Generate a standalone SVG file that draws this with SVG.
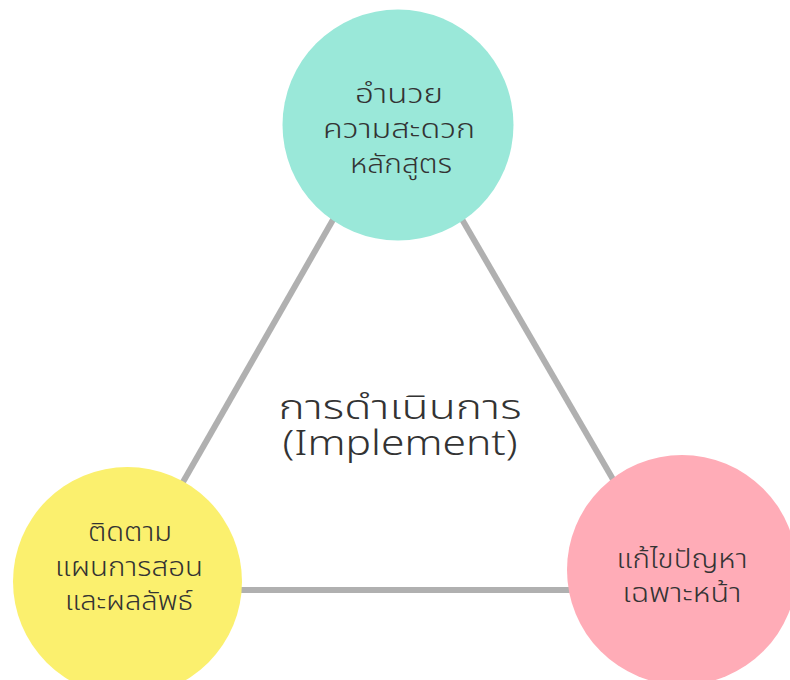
<svg xmlns="http://www.w3.org/2000/svg" width="790" height="680" viewBox="0 0 790 680">
  <style>
    .link { stroke: #b0b0b0; stroke-width: 6; fill: none; }
    .label { font-family: "Noto Sans Thai", "Noto Sans", "DejaVu Sans", sans-serif; font-size: 26px; font-weight: 300; fill: #333333; text-anchor: middle; }
    .title { font-family: "Noto Sans Thai", "Noto Sans", "DejaVu Sans", sans-serif; font-size: 34px; font-weight: 300; fill: #333333; text-anchor: middle; }
  </style>
  <rect width="790" height="680" fill="#ffffff"/>

  <!-- connectors between the three stages -->
  <g id="connectors">
    <line class="link" x1="350" y1="190" x2="175" y2="496"/>
    <line class="link" x1="445" y1="190" x2="625" y2="500"/>
    <line class="link" x1="200" y1="590" x2="620" y2="590"/>
  </g>

  <!-- central caption -->
  <g id="center">
    <text class="title" x="400" y="419" textLength="243" lengthAdjust="spacingAndGlyphs">การดำเนินการ</text>
    <text class="title" x="400" y="455" textLength="235" lengthAdjust="spacingAndGlyphs">(Implement)</text>
  </g>

  <g id="node-support">
    <circle cx="398" cy="125" r="115.5" fill="#9ae8d9"/>
    <text class="label" x="399" y="103" textLength="88" lengthAdjust="spacingAndGlyphs">อำนวย</text>
    <text class="label" x="399" y="138" textLength="152" lengthAdjust="spacingAndGlyphs">ความสะดวก</text>
    <text class="label" x="401" y="173" textLength="102" lengthAdjust="spacingAndGlyphs">หลักสูตร</text>
  </g>

  <g id="node-monitor">
    <circle cx="127.5" cy="581.5" r="114.5" fill="#fbf06e"/>
    <text class="label" x="130" y="541" textLength="84" lengthAdjust="spacingAndGlyphs">ติดตาม</text>
    <text class="label" x="129" y="576" textLength="148" lengthAdjust="spacingAndGlyphs">แผนการสอน</text>
    <text class="label" x="129" y="610" textLength="128" lengthAdjust="spacingAndGlyphs">และผลลัพธ์</text>
  </g>

  <g id="node-solve">
    <circle cx="682" cy="570" r="115" fill="#ffacb7"/>
    <text class="label" x="682" y="568" textLength="131" lengthAdjust="spacingAndGlyphs">แก้ไขปัญหา</text>
    <text class="label" x="682" y="602" textLength="119" lengthAdjust="spacingAndGlyphs">เฉพาะหน้า</text>
  </g>
</svg>
